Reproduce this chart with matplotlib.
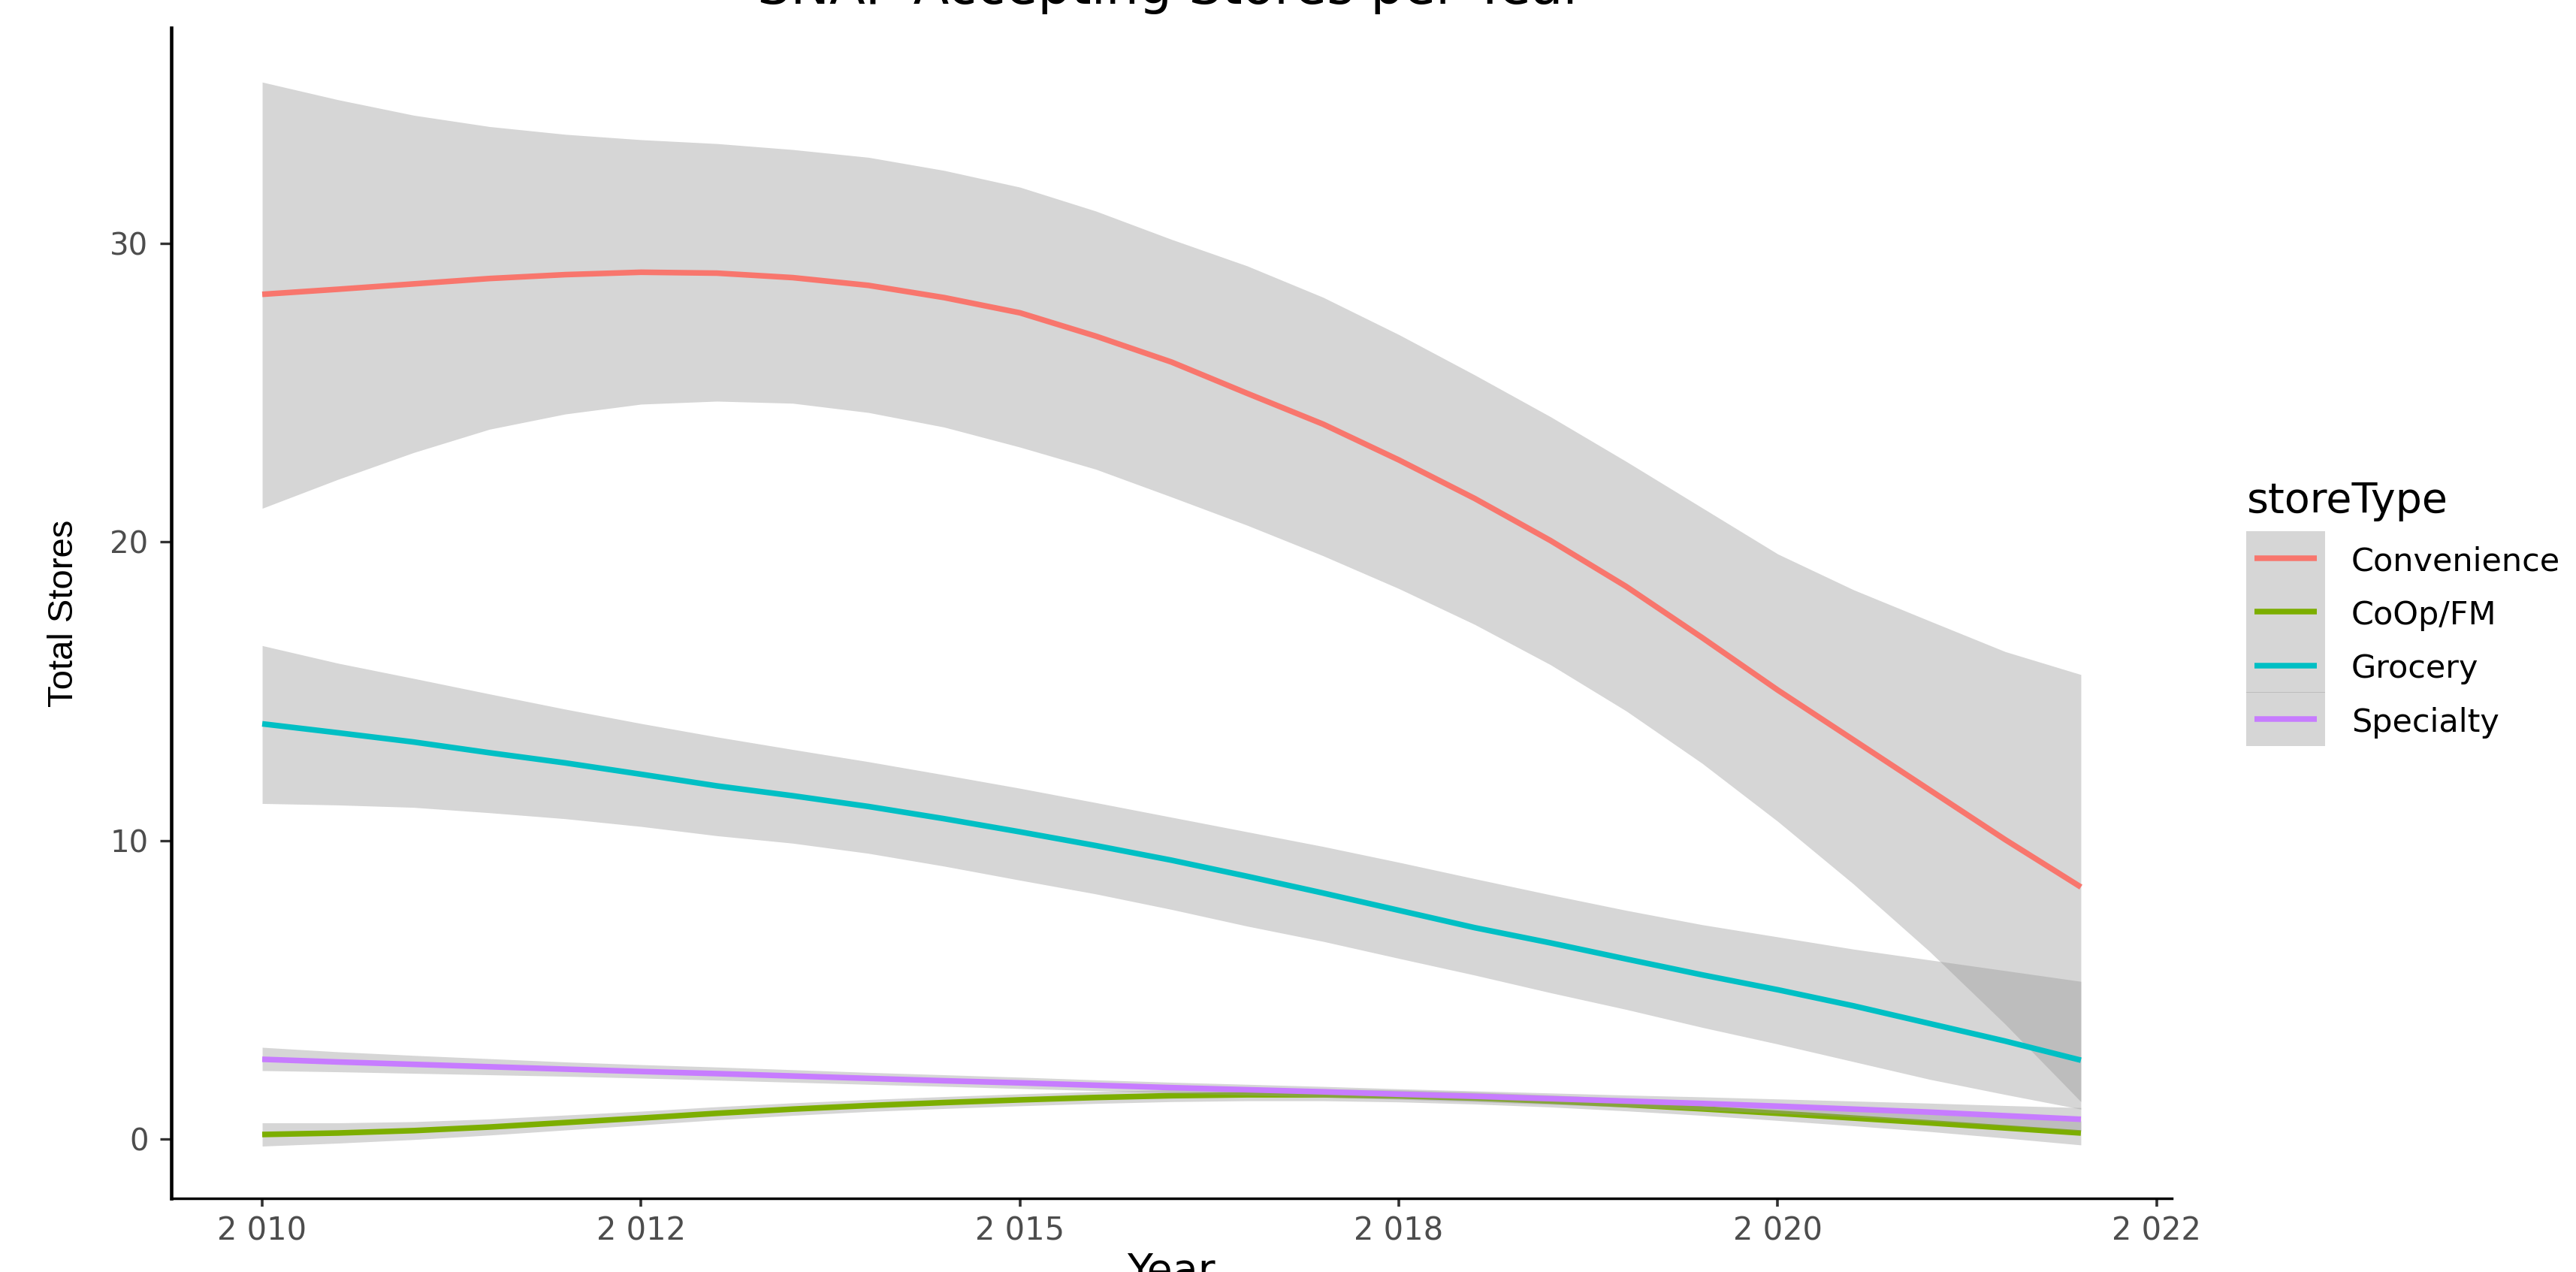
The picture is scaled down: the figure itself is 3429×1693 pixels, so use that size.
import matplotlib
matplotlib.use("Agg")
import matplotlib.pyplot as plt
from matplotlib.patches import Rectangle
from matplotlib.lines import Line2D

# smoothed store counts, every half year
years = [2010, 2010.5, 2011, 2011.5, 2012, 2012.5, 2013, 2013.5, 2014, 2014.5, 2015, 2015.5,
         2016, 2016.5, 2017, 2017.5, 2018, 2018.5, 2019, 2019.5, 2020, 2020.5, 2021, 2021.5, 2022]

conv_mean = [28.30, 28.47, 28.65, 28.83, 28.96, 29.04, 29.01, 28.86, 28.60, 28.19, 27.68, 26.90,
             26.03, 24.98, 23.95, 22.75, 21.46, 20.05, 18.51, 16.80, 15.04, 13.37, 11.70, 10.03, 8.44]
conv_lo = [21.13, 22.10, 23.00, 23.78, 24.29, 24.62, 24.72, 24.65, 24.34, 23.85, 23.18, 22.44,
           21.51, 20.56, 19.54, 18.44, 17.24, 15.89, 14.34, 12.59, 10.64, 8.54, 6.29, 3.85, 1.25]
conv_hi = [35.41, 34.82, 34.30, 33.92, 33.66, 33.48, 33.35, 33.15, 32.89, 32.45, 31.89, 31.09,
           30.14, 29.25, 28.20, 26.95, 25.60, 24.20, 22.70, 21.15, 19.60, 18.40, 17.36, 16.33, 15.56]

coop_mean = [0.15, 0.20, 0.28, 0.40, 0.55, 0.70, 0.86, 1.00, 1.12, 1.22, 1.31, 1.39,
             1.45, 1.48, 1.48, 1.44, 1.37, 1.27, 1.15, 1.01, 0.86, 0.70, 0.54, 0.37, 0.20]
coop_lo = [-0.24, -0.14, -0.02, 0.13, 0.30, 0.47, 0.64, 0.79, 0.92, 1.02, 1.11, 1.19,
           1.25, 1.28, 1.28, 1.24, 1.17, 1.07, 0.94, 0.79, 0.62, 0.44, 0.25, 0.03, -0.20]
coop_hi = [0.54, 0.54, 0.58, 0.67, 0.80, 0.93, 1.08, 1.21, 1.32, 1.42, 1.51, 1.59,
           1.65, 1.68, 1.68, 1.64, 1.57, 1.47, 1.36, 1.23, 1.10, 0.96, 0.83, 0.71, 0.60]

groc_mean = [13.91, 13.61, 13.30, 12.94, 12.60, 12.22, 11.83, 11.50, 11.14, 10.73, 10.29, 9.83,
             9.34, 8.80, 8.24, 7.66, 7.08, 6.57, 6.03, 5.50, 5.00, 4.46, 3.87, 3.28, 2.64]
groc_lo = [11.24, 11.19, 11.11, 10.93, 10.73, 10.47, 10.16, 9.91, 9.57, 9.14, 8.67, 8.21,
           7.69, 7.13, 6.62, 6.05, 5.49, 4.90, 4.34, 3.74, 3.18, 2.59, 2.00, 1.49, 1.00]
groc_hi = [16.53, 15.94, 15.43, 14.91, 14.40, 13.92, 13.47, 13.05, 12.64, 12.20, 11.75, 11.27,
           10.78, 10.29, 9.80, 9.27, 8.72, 8.18, 7.66, 7.18, 6.77, 6.36, 6.00, 5.64, 5.28]

spec_mean = [2.67, 2.58, 2.50, 2.42, 2.34, 2.26, 2.19, 2.11, 2.03, 1.95, 1.88, 1.80,
             1.72, 1.65, 1.58, 1.50, 1.43, 1.35, 1.27, 1.19, 1.10, 1.00, 0.90, 0.78, 0.66]
spec_lo = [2.29, 2.25, 2.20, 2.15, 2.10, 2.04, 1.97, 1.90, 1.83, 1.76, 1.69, 1.62,
           1.54, 1.47, 1.40, 1.33, 1.25, 1.16, 1.07, 0.97, 0.86, 0.74, 0.60, 0.45, 0.28]
spec_hi = [3.07, 2.92, 2.80, 2.69, 2.58, 2.49, 2.41, 2.32, 2.23, 2.15, 2.07, 1.98,
           1.90, 1.83, 1.76, 1.68, 1.61, 1.54, 1.47, 1.41, 1.34, 1.27, 1.20, 1.12, 1.05]

store_types = ["Convenience", "CoOp/FM", "Grocery", "Specialty"]
colors = ["#F8766D", "#7CAE00", "#00BFC4", "#C77CFF"]

x_ticks = [2010, 2012.5, 2015, 2017.5, 2020, 2022.5]
x_tick_labels = ["2 010", "2 012", "2 015", "2 018", "2 020", "2 022"]
y_ticks = [0, 10, 20, 30]

means = [conv_mean, coop_mean, groc_mean, spec_mean]
lows = [conv_lo, coop_lo, groc_lo, spec_lo]
highs = [conv_hi, coop_hi, groc_hi, spec_hi]

W, H = 3430, 1693
fig = plt.figure(figsize=(W / 100, H / 100), dpi=100)
fig.patch.set_facecolor("white")


def fx(px):
    return px / W


def fy(py):
    return 1 - py / H


ax = fig.add_axes([fx(228), fy(1595), fx(2891) - fx(228), fy(37) - fy(1595)])
ax.set_facecolor("white")

# ribbon then line per group, like geom_smooth
z = 2
for m, lo, hi, c in zip(means, lows, highs, colors):
    ax.fill_between(years, lo, hi, color="#999999", alpha=0.4, linewidth=0, zorder=z)
    ax.plot(years, m, color=c, linewidth=5.4, solid_capstyle="butt",
            solid_joinstyle="round", zorder=z + 1)
    z += 2

ax.set_xlim(2009.4, 2022.6)
ax.set_ylim(-1.99, 37.23)

for s in ["top", "right"]:
    ax.spines[s].set_visible(False)
ax.spines["left"].set_linewidth(3.3)
ax.spines["bottom"].set_linewidth(2.5)
ax.spines["left"].set_color("black")
ax.spines["bottom"].set_color("black")

ax.set_xticks(x_ticks)
ax.set_xticklabels(x_tick_labels)
ax.set_yticks(y_ticks)
ax.tick_params(axis="y", length=11, width=2.4, color="#333333", pad=11,
               labelsize=29, labelcolor="#4D4D4D")
ax.tick_params(axis="x", length=8, width=2.6, color="#333333", pad=8,
               labelsize=30, labelcolor="#4D4D4D")
for lab in ax.get_xticklabels() + ax.get_yticklabels():
    lab.set_family("DejaVu Sans")

# titles (the original is cropped at top and bottom)
fig.text(fx(1559), fy(5), "SNAP Accepting Stores per Year", ha="center", va="baseline",
         fontsize=50, family="DejaVu Sans", color="black")
fig.text(fx(1559), fy(1666), "Year", ha="center", va="top",
         fontsize=40, family="DejaVu Sans", color="black")
fig.text(fx(85), fy(816), "Total Stores", ha="center", va="center", rotation=90,
         fontsize=34, family="Liberation Sans", color="black")

# legend
fig.text(fx(2991), fy(682), "storeType", ha="left", va="baseline",
         fontsize=40, family="DejaVu Sans", color="black")
key_top = 707
key_h = 71.5
for i, (name, c) in enumerate(zip(store_types, colors)):
    top = key_top + i * key_h
    fig.patches.append(Rectangle((fx(2990), fy(top + key_h)), fx(3095) - fx(2990),
                                 fy(top) - fy(top + key_h), transform=fig.transFigure,
                                 facecolor="#999999", alpha=0.4, linewidth=0))
    yc = top + key_h / 2
    fig.lines.append(Line2D([fx(3001), fx(3084)], [fy(yc), fy(yc)], transform=fig.transFigure,
                            color=c, linewidth=5.4, solid_capstyle="butt"))
    fig.text(fx(3130), fy(yc), name, ha="left", va="center_baseline",
             fontsize=31, family="DejaVu Sans", color="black")

fig.savefig("out.png", dpi=100, facecolor="white")
